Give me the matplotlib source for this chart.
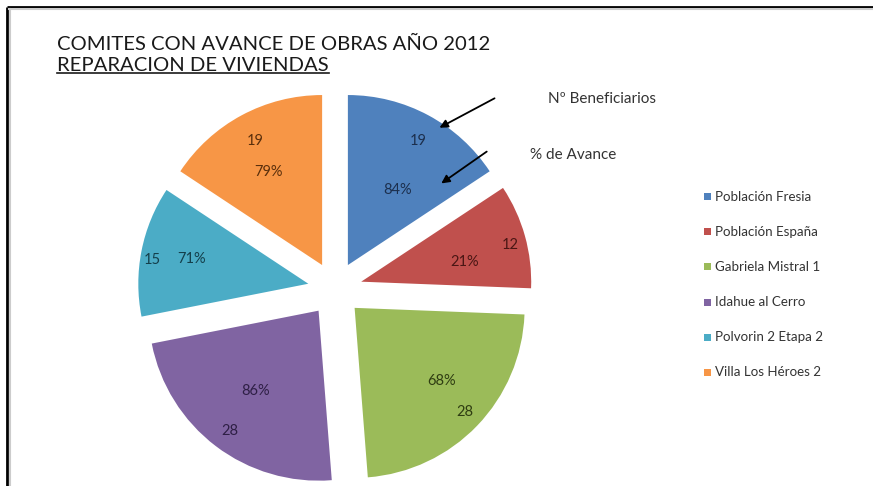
import matplotlib
matplotlib.use("Agg")
import matplotlib.pyplot as plt
import numpy as np

# data
comites = ['Población Fresia', 'Población España', 'Gabriela Mistral 1',
           'Idahue al Cerro', 'Polvorin 2 Etapa 2', 'Villa Los Héroes 2']
beneficiarios = [19, 12, 28, 28, 15, 19]
avance = [84, 21, 68, 86, 71, 79]

title1 = 'COMITES CON AVANCE DE OBRAS AÑO 2012'
title2 = 'REPARACION DE VIVIENDAS'

# style
colors = ['#4F81BD', '#C0504D', '#9BBB59', '#8064A2', '#4BACC6', '#F79646']
text_colors = ['#1c2f4d', '#4a1614', '#2f3d12', '#2e1f45', '#143f4b', '#5a2f0c']
font = 'Lato'

W, H = 873, 486
cx, cy = 335, H - 289
radius = 170
explode = 0.16 * radius

# label placement: (fraction of radius, angle offset from slice middle)
count_pos = [(1.00, -1), (1.06, -1.5), (1.05, 0.5), (1.04, 0.8), (1.09, 2), (0.99, 0)]
pct_pos = [(0.69, -4), (0.78, -4), (0.83, 3), (0.76, -0.6), (0.86, -0.5), (0.79, 1.5)]

fig = plt.figure(figsize=(W / 100, H / 100), dpi=100)
ax = fig.add_axes([0, 0, 1, 1])

wedges, _ = ax.pie(beneficiarios, explode=[explode] * len(beneficiarios), colors=colors,
                   startangle=90, counterclock=False, radius=radius, center=(cx, cy),
                   wedgeprops=dict(linewidth=0))

ax.set_xlim(0, W)
ax.set_ylim(0, H)
ax.set_aspect('equal')
ax.axis('off')

for i, w in enumerate(wedges):
    mid = np.radians(0.5 * (w.theta1 + w.theta2))
    f, off = count_pos[i]
    a = mid + np.radians(off)
    ax.text(cx + f * radius * np.cos(a), cy + f * radius * np.sin(a), str(beneficiarios[i]),
            ha='center', va='center', fontsize=10.5, color=text_colors[i], family=font)
    f, off = pct_pos[i]
    a = mid + np.radians(off)
    ax.text(cx + f * radius * np.cos(a), cy + f * radius * np.sin(a), f'{avance[i]}%',
            ha='center', va='center', fontsize=10.5, color=text_colors[i], family=font)

# titles
ax.text(57, H - 44, title1, fontsize=14.6, family=font, color='#1a1a1a', va='center', ha='left')
t2 = ax.text(57, H - 66, title2, fontsize=14.6, family=font, color='#1a1a1a', va='center', ha='left')
fig.canvas.draw()
bb = t2.get_window_extent()
ax.plot([bb.x0, bb.x1], [bb.y0 + 1, bb.y0 + 1], color='#1a1a1a', lw=1.2)

# callouts
ax.annotate('', xy=(437, H - 129), xytext=(497, H - 97),
            arrowprops=dict(arrowstyle='-|>', color='black', lw=1.3, mutation_scale=12))
ax.annotate('', xy=(439, H - 185), xytext=(489, H - 150),
            arrowprops=dict(arrowstyle='-|>', color='black', lw=1.3, mutation_scale=12))
ax.text(548, H - 99, 'Nº Beneficiarios', fontsize=11, family=font, color='#333333', va='center')
ax.text(530, H - 155, '% de Avance', fontsize=11, family=font, color='#333333', va='center')

# legend
for i, name in enumerate(comites):
    y = H - 197 - 35 * i
    ax.add_patch(plt.Rectangle((704, y - 3.5), 7, 7, color=colors[i], lw=0))
    ax.text(715, y, name, fontsize=9.6, family=font, color='#333333', va='center')

# frame lines (top and left)
ax.plot([7, W], [H - 7, H - 7], color='black', lw=2, solid_capstyle='butt')
ax.plot([7, 7], [0, H - 7], color='black', lw=2, solid_capstyle='butt')
ax.plot([9, W], [H - 9.5, H - 9.5], color='#cccccc', lw=1.5)
ax.plot([9.5, 9.5], [0, H - 9], color='#cccccc', lw=1.5)

fig.savefig('out.png', dpi=100)
